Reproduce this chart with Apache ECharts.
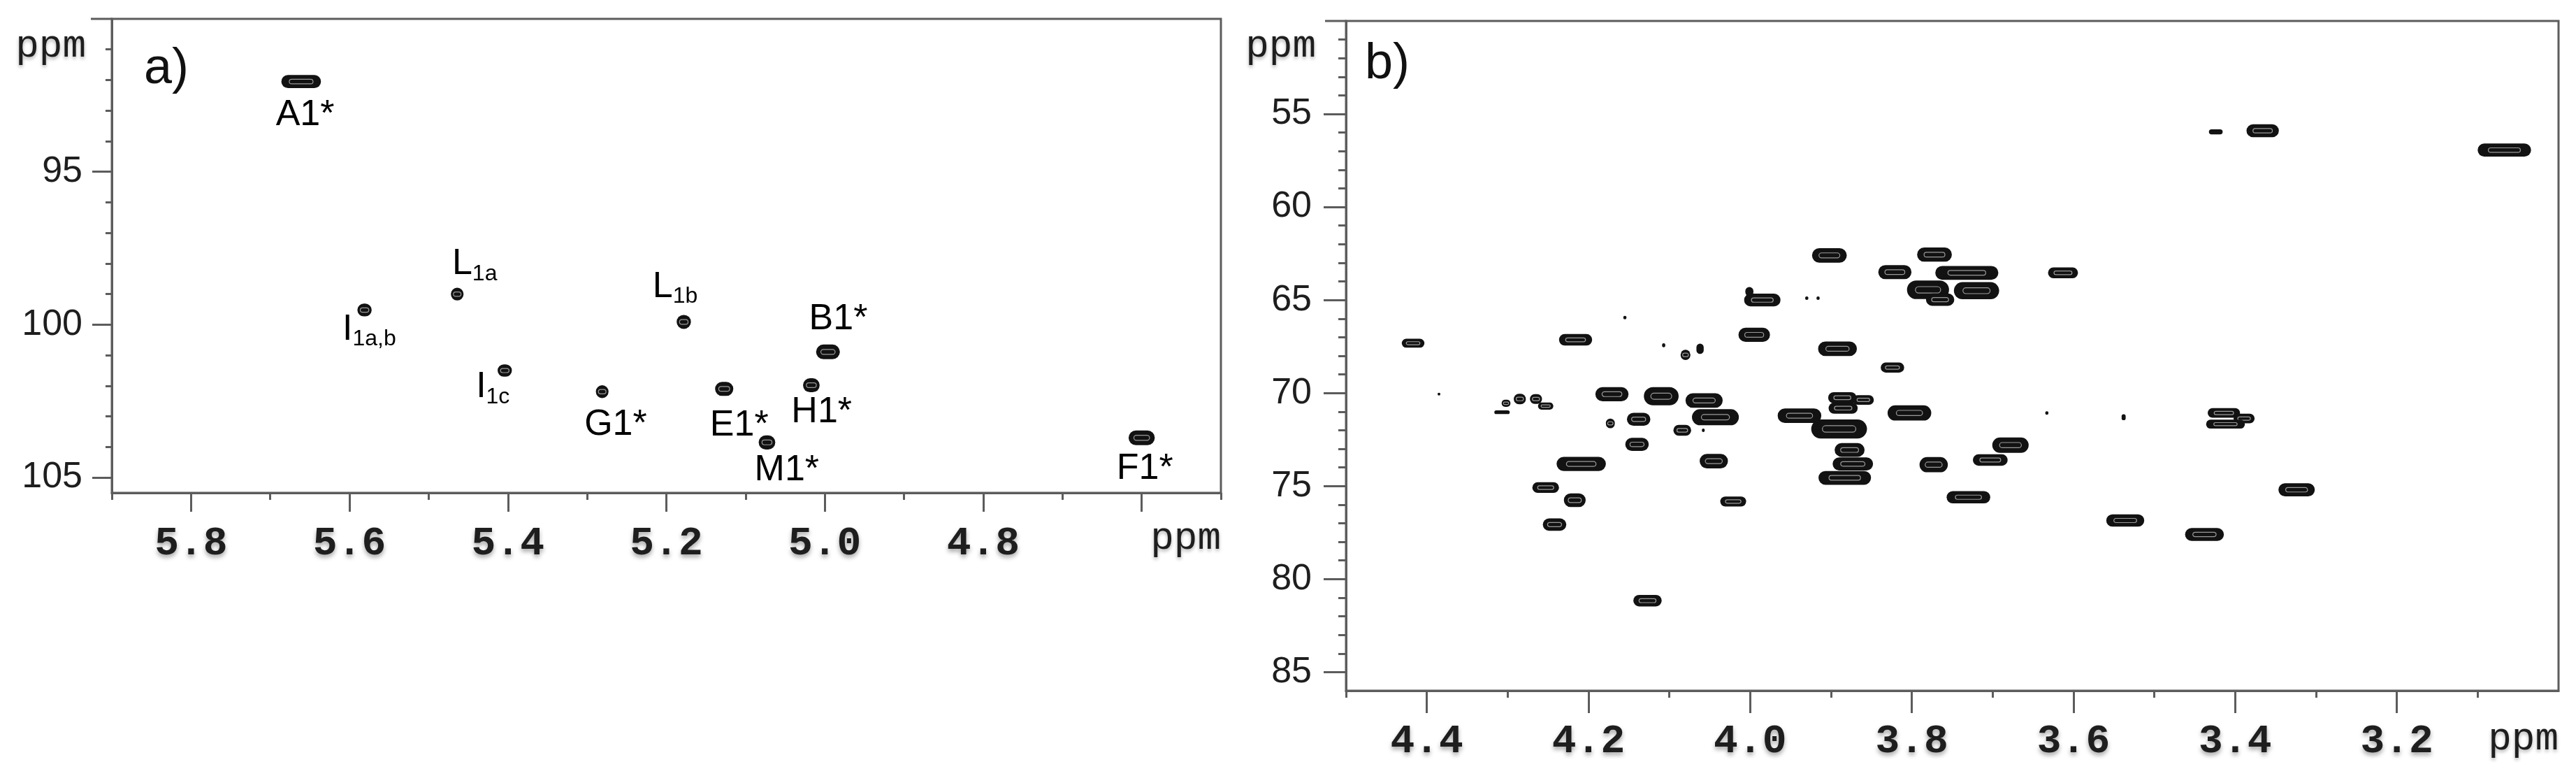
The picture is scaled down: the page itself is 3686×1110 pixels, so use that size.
<!DOCTYPE html>
<html>
<head>
<meta charset="utf-8">
<script src="https://cdn.jsdelivr.net/npm/echarts@6/dist/echarts.min.js"></script>
<style>
  html, body { margin: 0; padding: 0; background: #fff; }
  #main { width: 3686px; height: 1110px; }
</style>
</head>
<body>
<div id="main"></div>
<script>
// ---- panel a) anomeric region, peaks (1H ppm, 13C ppm) and contour extent in ppm
var aPeakX = [5.661, 5.464, 5.581, 5.404, 5.281, 5.178, 4.996, 5.127, 5.017, 5.073, 4.600];
var aPeakY = [92.05, 99.00, 99.52, 101.50, 102.19, 99.91, 100.89, 102.10, 101.98, 103.85, 103.70];
var aPeakW = [0.050, 0.016, 0.018, 0.018, 0.016, 0.018, 0.030, 0.023, 0.021, 0.021, 0.033];
var aPeakH = [0.43, 0.42, 0.42, 0.40, 0.42, 0.46, 0.48, 0.46, 0.46, 0.46, 0.48];

// peak labels (text + subscript) and where they sit, in ppm
var aLabelBase = ['A1*', 'L', 'I', 'I', 'G1*', 'L', 'B1*', 'E1*', 'H1*', 'M1*', 'F1*'];
var aLabelSub = ['', '1a', '1a,b', '1c', '', '1b', '', '', '', '', ''];
var aLabelX = [5.656, 5.442, 5.575, 5.419, 5.264, 5.189, 4.983, 5.108, 5.004, 5.048, 4.596];
var aLabelY = [93.14, 98.02, 100.16, 102.05, 103.28, 98.77, 99.82, 103.30, 102.87, 104.76, 104.72];

// ---- panel b) ring region
var bPeakX = [4.417, 4.216, 4.155, 4.107, 4.080, 4.062, 3.995, 3.985, 4.001, 3.930, 3.916,
  3.902, 3.892, 3.821, 3.824, 3.772, 3.732, 3.780, 3.720, 3.765, 3.613, 3.424, 3.366, 3.067,
  4.385, 4.307, 4.302, 4.285, 4.265, 4.253, 4.171, 4.110, 4.057, 4.043, 4.138, 4.173, 4.084,
  4.058, 4.140, 4.209, 4.045, 3.939, 3.886, 3.860, 3.885, 3.890, 3.877, 3.873, 3.883, 3.803,
  3.773, 3.730, 3.678, 3.703, 3.633, 3.538, 3.536, 3.438, 3.324, 3.414, 3.389, 3.412, 4.253,
  4.217, 4.242, 4.021, 4.127];
var bPeakY = [67.32, 67.14, 65.94, 67.43, 67.95, 67.62, 66.87, 65.00, 64.55, 64.90, 64.90,
  62.60, 67.62, 63.50, 68.63, 62.56, 63.54, 64.45, 64.50, 64.98, 63.54, 55.96, 55.90, 56.94,
  70.06, 71.03, 70.55, 70.32, 70.32, 70.70, 70.06, 70.17, 70.40, 71.30, 71.41, 71.63, 72.00,
  72.00, 72.76, 73.81, 73.66, 71.22, 70.25, 70.37, 70.81, 71.93, 73.06, 73.81, 74.56, 71.07,
  73.85, 75.60, 72.80, 73.60, 71.07, 71.30, 76.85, 77.60, 75.20, 71.07, 71.37, 71.67, 75.08,
  75.76, 77.07, 75.83, 81.16];
var bPeakW = [0.028, 0.041, 0.004, 0.004, 0.012, 0.009, 0.039, 0.045, 0.010, 0.004, 0.004,
  0.043, 0.048, 0.041, 0.029, 0.043, 0.078, 0.052, 0.056, 0.035, 0.037, 0.017, 0.040, 0.066,
  0.0035, 0.019, 0.011, 0.015, 0.015, 0.019, 0.041, 0.043, 0.046, 0.058, 0.029, 0.011, 0.022,
  0.0035, 0.029, 0.061, 0.035, 0.054, 0.035, 0.026, 0.036, 0.069, 0.037, 0.050, 0.065, 0.054,
  0.035, 0.054, 0.045, 0.043, 0.004, 0.005, 0.047, 0.048, 0.045, 0.040, 0.026, 0.048, 0.033,
  0.027, 0.029, 0.032, 0.035];
var bPeakH = [0.48, 0.62, 0.19, 0.22, 0.56, 0.56, 0.76, 0.68, 0.50, 0.19, 0.19,
  0.78, 0.78, 0.76, 0.54, 0.76, 0.74, 1.00, 0.92, 0.66, 0.58, 0.28, 0.70, 0.70,
  0.15, 0.20, 0.38, 0.56, 0.52, 0.38, 0.76, 0.98, 0.78, 0.86, 0.70, 0.52, 0.58,
  0.19, 0.70, 0.76, 0.78, 0.78, 0.60, 0.52, 0.60, 1.02, 0.74, 0.70, 0.74, 0.82,
  0.82, 0.66, 0.82, 0.62, 0.19, 0.32, 0.66, 0.70, 0.70, 0.52, 0.52, 0.48, 0.58,
  0.74, 0.66, 0.54, 0.62];

// ---- ticks
var aXMajor = [5.8, 5.6, 5.4, 5.2, 5.0, 4.8, 4.6];
var aXLabels = [5.8, 5.6, 5.4, 5.2, 5.0, 4.8];
var aXMinor = [5.9, 5.7, 5.5, 5.3, 5.1, 4.9, 4.7, 4.5];
var aYMajor = [95, 100, 105];
var aYMinor = [91, 92, 93, 94, 96, 97, 98, 99, 101, 102, 103, 104];

var bXMajor = [4.4, 4.2, 4.0, 3.8, 3.6, 3.4, 3.2];
var bXMinor = [4.5, 4.3, 4.1, 3.9, 3.7, 3.5, 3.3, 3.1];
var bYMajor = [55, 60, 65, 70, 75, 80, 85];
var bYMinor = [51, 52, 53, 54, 56, 57, 58, 59, 61, 62, 63, 64, 66, 67, 68, 69,
  71, 72, 73, 74, 76, 77, 78, 79, 81, 82, 83, 84];

var lineCol = '#5c5c5c';
var chart = echarts.init(document.getElementById('main'));

function renderPeak(params, api) {
    var x = api.value(0), y = api.value(1);
    var c = api.coord([x, y]);
    var s = api.size([api.value(2), api.value(3)], [x, y]);
    var w = Math.max(s[0], 4), h = Math.max(s[1], 4);
    var kids = [{
        type: 'rect',
        shape: { x: c[0] - w / 2, y: c[1] - h / 2, width: w, height: h, r: Math.min(w, h) / 2 },
        style: { fill: '#121212' }
    }];
    if (w > 12 && h > 10) {
        var iw = w * 0.6, ih = h * 0.34;
        kids.push({
            type: 'rect',
            shape: { x: c[0] - iw / 2, y: c[1] - ih / 2, width: iw, height: ih, r: ih / 2 },
            style: { fill: 'none', stroke: '#9a9a9a', lineWidth: 1.2 }
        });
    }
    return { type: 'group', children: kids };
}

function peakData(xs, ys, ws, hs) {
    return xs.map(function (x, i) { return [x, ys[i], ws[i], hs[i]]; });
}

// x axis: major ticks + labels, or minor ticks only
function xAxisOf(grid, min, max, ticks, labels, len) {
    return {
        type: 'value', gridIndex: grid, position: 'bottom', min: min, max: max, inverse: true,
        axisLine: { show: !!labels, lineStyle: { color: lineCol, width: 3 } },
        axisTick: { show: true, customValues: ticks, length: len, lineStyle: { color: lineCol, width: 3 } },
        axisLabel: labels ? {
            customValues: labels, margin: 44,
            formatter: function (v) { return v.toFixed(1); },
            fontFamily: 'Liberation Mono', fontWeight: 'bold', fontSize: 58, color: '#1e1e1e',
            textShadowColor: 'rgba(0,0,0,0.35)', textShadowBlur: 6, textShadowOffsetY: 4
        } : { show: false },
        splitLine: { show: false }
    };
}

function yAxisOf(grid, min, max, ticks, labels, len, margin) {
    return {
        type: 'value', gridIndex: grid, position: 'left', min: min, max: max, inverse: true,
        axisLine: { show: !!labels, lineStyle: { color: lineCol, width: 3 } },
        axisTick: { show: true, customValues: ticks, length: len, lineStyle: { color: lineCol, width: 3 } },
        axisLabel: labels ? {
            customValues: labels, margin: margin,
            formatter: function (v) { return String(v); },
            fontFamily: 'Liberation Sans', fontSize: 52, color: '#1e1e1e'
        } : { show: false },
        splitLine: { show: false }
    };
}

var gridA = { left: 160, top: 27, width: 1587, height: 678 };
var gridB = { left: 1926, top: 30, width: 1735, height: 958 };
function framed(g) {
    return Object.assign({ show: true, borderColor: lineCol, borderWidth: 3, backgroundColor: 'transparent' }, g);
}

var ppmStyle = { fontFamily: 'Liberation Mono', fontSize: 56, fill: '#1e1e1e', verticalAlign: 'middle',
    textShadowColor: 'rgba(0,0,0,0.3)', textShadowBlur: 5, textShadowOffsetY: 3 };
function ppmText(x, y) {
    return { type: 'text', x: x, y: y, style: Object.assign({ text: 'ppm', align: 'right' }, ppmStyle) };
}
// the frame's top edge runs a little past the left axis
function topStub(x, y) {
    return { type: 'line', shape: { x1: x - 30, y1: y, x2: x, y2: y }, style: { stroke: lineCol, lineWidth: 3 } };
}

var option = {
    backgroundColor: '#fff',
    animation: false,
    grid: [framed(gridA), Object.assign({}, gridA), framed(gridB), Object.assign({}, gridB)],
    xAxis: [
        xAxisOf(0, 4.5, 5.9, aXMajor, aXLabels, 27),
        xAxisOf(1, 4.5, 5.9, aXMinor, null, 10),
        xAxisOf(2, 3.0, 4.5, bXMajor, bXMajor, 32),
        xAxisOf(3, 3.0, 4.5, bXMinor, null, 10)
    ],
    yAxis: [
        yAxisOf(0, 90, 105.5, aYMajor, aYMajor, 28, 42),
        yAxisOf(1, 90, 105.5, aYMinor, null, 9),
        yAxisOf(2, 50, 86, bYMajor, bYMajor, 32, 49),
        yAxisOf(3, 50, 86, bYMinor, null, 11)
    ],
    graphic: [
        topStub(gridA.left, gridA.top),
        topStub(gridB.left, gridB.top),
        { type: 'text', x: 238, y: 99, style: { text: 'a)', fontFamily: 'Liberation Sans', fontSize: 72, fill: '#111', align: 'center', verticalAlign: 'middle' } },
        { type: 'text', x: 1985, y: 92, style: { text: 'b)', fontFamily: 'Liberation Sans', fontSize: 72, fill: '#111', align: 'center', verticalAlign: 'middle' } },
        ppmText(123, 66),
        ppmText(1883, 66),
        ppmText(1747, 770),
        ppmText(3661, 1057)
    ],
    series: [
        {
            type: 'custom', xAxisIndex: 0, yAxisIndex: 0, clip: true,
            renderItem: renderPeak, encode: { x: 0, y: 1 },
            data: peakData(aPeakX, aPeakY, aPeakW, aPeakH)
        },
        {
            type: 'scatter', xAxisIndex: 0, yAxisIndex: 0, symbolSize: 0, silent: true,
            itemStyle: { opacity: 1 },
            data: aLabelX.map(function (x, i) { return [x, aLabelY[i], i]; }),
            label: {
                show: true, position: 'inside', color: '#000', opacity: 1,
                formatter: function (p) {
                    var i = p.value[2];
                    return aLabelSub[i] ? '{m|' + aLabelBase[i] + '}{s|' + aLabelSub[i] + '}' : '{m|' + aLabelBase[i] + '}';
                },
                rich: {
                    m: { fontFamily: 'Liberation Sans', fontSize: 52, color: '#000', lineHeight: 60 },
                    s: { fontFamily: 'Liberation Sans', fontSize: 32, color: '#000', lineHeight: 20, verticalAlign: 'bottom' }
                }
            }
        },
        {
            type: 'custom', xAxisIndex: 2, yAxisIndex: 2, clip: true,
            renderItem: renderPeak, encode: { x: 0, y: 1 },
            data: peakData(bPeakX, bPeakY, bPeakW, bPeakH)
        }
    ]
};

option && chart.setOption(option);
</script>
</body>
</html>
